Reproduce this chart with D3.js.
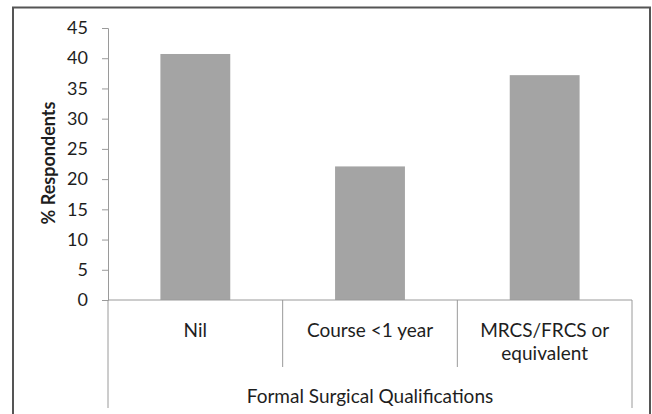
<!DOCTYPE html>
<html>
<head>
<meta charset="utf-8">
<script src="https://cdn.jsdelivr.net/npm/d3@7"></script>
<style>
  html, body { margin: 0; padding: 0; background: #fff; }
  svg { display: block; }
  text { font-family: Lato, "Open Sans", sans-serif; fill: #1e1e1e; }
</style>
</head>
<body>
<svg id="chart" width="652" height="414"></svg>
<script>
const categories = ["Nil", "Course <1 year", "MRCS/FRCS or equivalent"];
const categoryLines = [["Nil"], ["Course <1 year"], ["MRCS/FRCS or", "equivalent"]];
const values = [40.7, 22.1, 37.2];
const yTicks = [0, 5, 10, 15, 20, 25, 30, 35, 40, 45];
const yTitle = "% Respondents";
const xTitle = "Formal Surgical Qualifications";

(function () {
const svg = d3.select("#chart");
const axisColor = "#9a9a9a";
const fontSize = 19;

// outer frame
svg.append("rect")
  .attr("x", 13).attr("y", 7.5)
  .attr("width", 637).attr("height", 410)
  .attr("fill", "#fff").attr("stroke", "#555").attr("stroke-width", 2);

const pLeft = 108, pRight = 632, pTop = 28, pBottom = 300;

const x = d3.scaleBand().domain(categories).range([pLeft, pRight]).padding(0);
const y = d3.scaleLinear().domain([0, 45]).range([pBottom, pTop]);

// bars
const barFrac = 0.4;
svg.append("g").selectAll("rect").data(values).join("rect")
  .attr("x", (d, i) => x(categories[i]) + x.bandwidth() * (1 - barFrac) / 2)
  .attr("width", x.bandwidth() * barFrac)
  .attr("y", d => y(d))
  .attr("height", d => y(0) - y(d))
  .attr("fill", "#a4a4a4");

// y axis
const yAxis = d3.axisLeft(y).tickValues(yTicks).tickSize(6).tickPadding(14);
const gy = svg.append("g").attr("transform", `translate(${pLeft},0)`).call(yAxis);
gy.select(".domain").attr("stroke", axisColor);
gy.selectAll(".tick line").attr("stroke", axisColor);
gy.selectAll(".tick text").attr("font-size", 18).attr("font-family", "Lato, 'Open Sans', sans-serif").attr("fill", "#222");

// x axis baseline
svg.append("line")
  .attr("x1", pLeft).attr("x2", pRight)
  .attr("y1", y(0)).attr("y2", y(0))
  .attr("stroke", axisColor);

// category dividers
const bounds = categories.map(c => x(c)).concat([x(categories[categories.length - 1]) + x.bandwidth()]);
svg.append("g").selectAll("line").data(bounds).join("line")
  .attr("x1", d => d).attr("x2", d => d)
  .attr("y1", y(0))
  .attr("y2", (d, i) => (i === 0 || i === bounds.length - 1) ? 408 : 367)
  .attr("stroke", axisColor);

// category labels
const lab = svg.append("g").selectAll("text").data(categoryLines).join("text")
  .attr("text-anchor", "middle")
  .attr("font-size", fontSize)
  .attr("x", (d, i) => x(categories[i]) + x.bandwidth() / 2)
  .attr("y", 337);
lab.selectAll("tspan").data(d => d).join("tspan")
  .attr("x", function() { return this.parentNode.getAttribute("x"); })
  .attr("dy", (d, i) => i === 0 ? 0 : 23)
  .text(d => d);

// x title
svg.append("text")
  .attr("x", (pLeft + pRight) / 2).attr("y", 403)
  .attr("text-anchor", "middle").attr("font-size", fontSize)
  .text(xTitle);

// y title
svg.append("text")
  .attr("transform", `translate(55,163) rotate(-90)`)
  .attr("text-anchor", "middle").attr("font-size", 18).attr("font-weight", "bold")
  .text(yTitle);
})();
</script>
</body>
</html>
